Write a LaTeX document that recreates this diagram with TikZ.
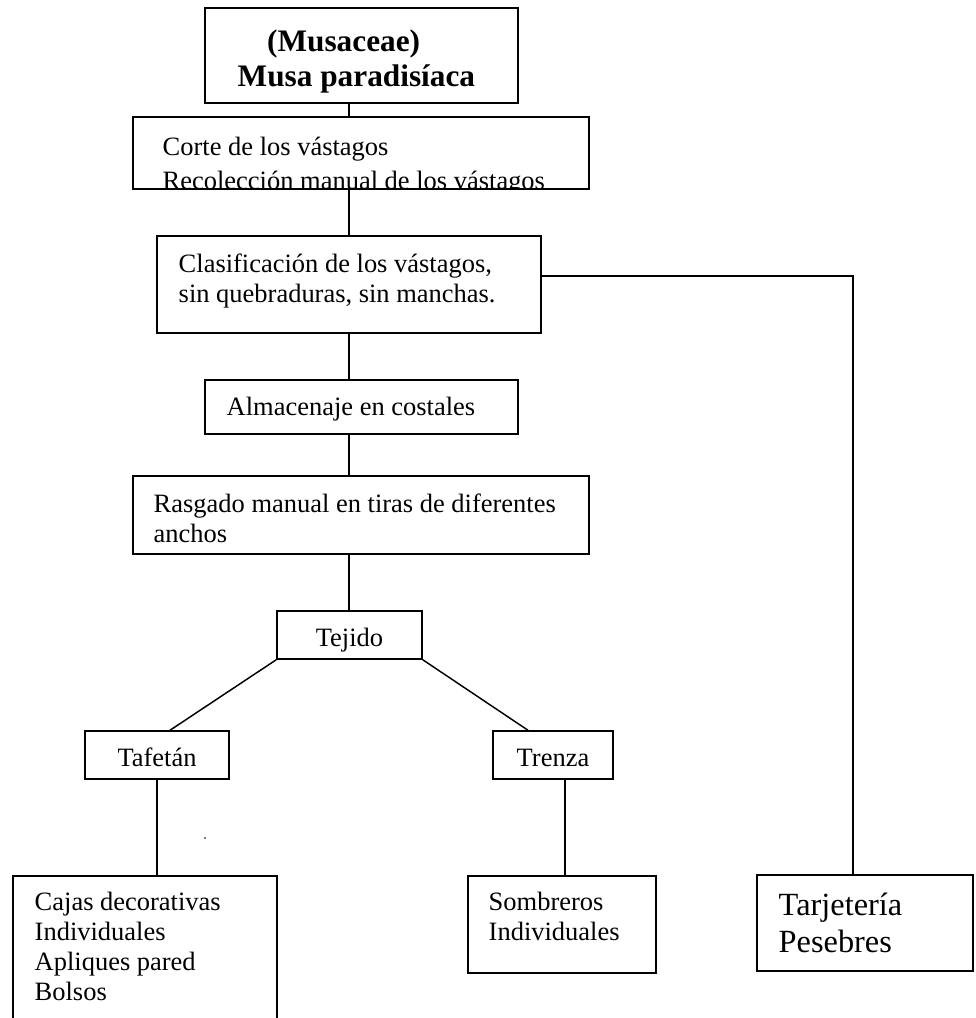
\documentclass[tikz,border=0pt]{standalone}
\usepackage{fontspec}
\setmainfont{Liberation Serif}
\newlength\pxu
\setlength\pxu{0.476pt}

\begin{document}
\begin{tikzpicture}[x=0.476pt, y=-0.476pt, line width=0.7pt,
   box/.style={draw, rectangle, inner sep=0pt},
   txt/.style={anchor=north west, inner sep=0pt, align=left, font=\fontsize{12.6}{14.3}\selectfont},
   tag/.style={box, font=\fontsize{12.6}{14.3}\selectfont, text height=11.4pt, text depth=0pt}]
   \clip (0,0) rectangle (976,1018);
   \coordinate (spine) at (349,0);
   % main column
   \node[box, minimum width=313\pxu, minimum height=95\pxu] (musa) at (361.5,55.5) {};
   \node[txt, font=\fontsize{14.9}{16.7}\selectfont\bfseries] (musat) at (237,26.4) {\strut\hspace*{14pt}(Musaceae)\\Musa paradisíaca};
   \node[box, minimum width=456\pxu, minimum height=72\pxu] (corte) at (361,153) {};
   \begin{scope}
      \clip (133,117) rectangle (589,189);
      \node[txt, font=\fontsize{12.6}{16}\selectfont] (cortet) at (162,131.5) {\strut Corte de los vástagos\\Recolección manual de los vástagos};
   \end{scope}
   \node[box, minimum width=384\pxu, minimum height=97\pxu] (clasif) at (349,284.5) {};
   \node[txt] (clasift) at (178,251) {\strut Clasificación de los vástagos,\\sin quebraduras, sin manchas.};
   \node[box, minimum width=313\pxu, minimum height=54\pxu] (almac) at (361.5,407) {};
   \node[txt] (almact) at (226,394) {\strut Almacenaje en costales};
   \node[box, minimum width=456\pxu, minimum height=78\pxu] (rasgado) at (361,515) {};
   \node[txt] (rasgadot) at (153,491) {\strut Rasgado manual en tiras de diferentes\\anchos};
   % weaving
   \node[tag, minimum width=145\pxu, minimum height=48\pxu] (tejido) at (349.5,635) {Tejido};
   \node[tag, minimum width=144\pxu, minimum height=48\pxu] (tafetan) at (157,755) {Tafetán};
   \node[tag, minimum width=120\pxu, minimum height=48\pxu] (trenza) at (553,755) {Trenza};
   % products
   \node[box, minimum width=264\pxu, minimum height=164\pxu] (cajas) at (145,958) {};
   \node[txt] (cajast) at (34,889) {\strut Cajas decorativas\\Individuales\\Apliques pared\\Bolsos};
   \node[box, minimum width=188\pxu, minimum height=97\pxu] (sombreros) at (562,924.5) {};
   \node[txt] (sombrerost) at (488,889) {\strut Sombreros\\Individuales};
   \node[box, minimum width=216\pxu, minimum height=96\pxu] (tarjeta) at (865,923) {};
   \node[txt, font=\fontsize{15.4}{17.6}\selectfont] (tarjetat) at (778,889) {\strut Tarjetería\\Pesebres};
   % connectors
   \draw (musa.south -| spine) -- (corte.north -| spine);
   \draw (corte.south -| spine) -- (clasif.north);
   \draw (clasif.south) -- (almac.north -| spine);
   \draw (almac.south -| spine) -- (rasgado.north -| spine);
   \draw (rasgado.south -| spine) -- (tejido.north -| spine);
   \draw (tejido.south west) -- ([xshift=13\pxu]tafetan.north);
   \draw (tejido.south east) -- ([xshift=-25\pxu]trenza.north);
   \draw (tafetan.south) -- (tafetan.south |- cajas.north);
   \draw ([xshift=12\pxu]trenza.south) -- ([xshift=12\pxu]trenza.south |- sombreros.north);
   \draw ([yshift=8.5\pxu]clasif.east) -| ([xshift=-12\pxu]tarjeta.north);
   \fill (205,838) circle (0.8\pxu);
\end{tikzpicture}
\end{document}
